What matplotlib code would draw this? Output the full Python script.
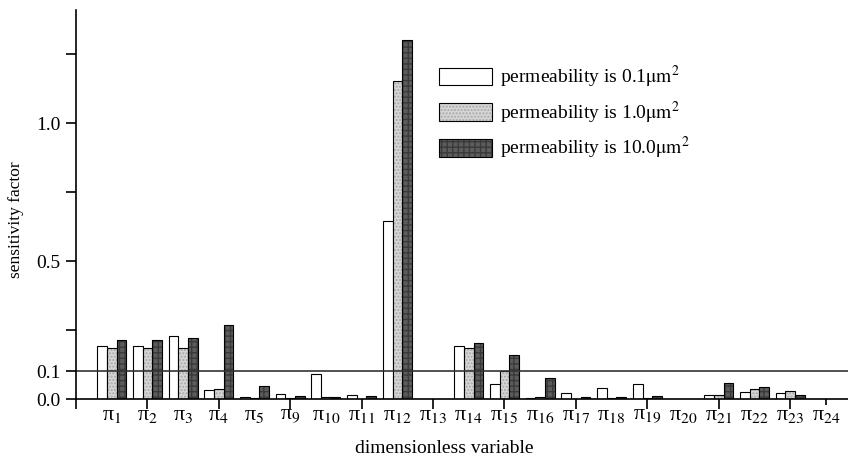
import matplotlib
matplotlib.use("Agg")
import matplotlib.pyplot as plt
import numpy as np
from matplotlib.patches import Patch

plt.rcParams['font.family'] = ['Liberation Serif', 'DejaVu Serif']
plt.rcParams['mathtext.fontset'] = 'stix'

variables = ['1', '2', '3', '4', '5', '9', '10', '11', '12', '13', '14', '15',
             '16', '17', '18', '19', '20', '21', '22', '23', '24']
perm_01 = [0.193, 0.193, 0.229, 0.031, 0.007, 0.019, 0.089, 0.013, 0.647, 0.001, 0.193,
           0.054, 0.004, 0.021, 0.039, 0.054, 0.001, 0.013, 0.025, 0.023, 0.001]
perm_10 = [0.184, 0.184, 0.186, 0.037, 0.003, 0.002, 0.006, 0.001, 1.153, 0.001, 0.184,
           0.100, 0.006, 0.001, 0.004, 0.004, 0.001, 0.013, 0.035, 0.028, 0.001]
perm_100 = [0.215, 0.215, 0.220, 0.267, 0.046, 0.012, 0.006, 0.012, 1.303, 0.001, 0.204,
            0.159, 0.075, 0.008, 0.008, 0.011, 0.001, 0.057, 0.042, 0.014, 0.001]
labels = [r'permeability is 0.1$\mathrm{\mu m}^2$',
          r'permeability is 1.0$\mathrm{\mu m}^2$',
          r'permeability is 10.0$\mathrm{\mu m}^2$']

x = np.arange(1, len(variables) + 1)
w = 0.27

fig = plt.figure(figsize=(8.48, 4.59), dpi=100)
ax = fig.add_axes([76 / 848, 60 / 459, 772 / 848, 389 / 459])

# (face, hatch, hatch colour)
styles = [('white', None, 'white'), ('#d6d6d6', '.....', '#a8a8a8'), ('#5c5c5c', '+++', '#3a3a3a')]
for k, (vals, (fc, hatch, hc)) in enumerate(zip([perm_01, perm_10, perm_100], styles)):
    pos = x + (k - 1) * w
    ax.bar(pos, vals, w, color=fc, hatch=hatch, edgecolor=hc, linewidth=0)
    ax.bar(pos, vals, w, facecolor='none', edgecolor='black', linewidth=0.8)

leg_handles = [(Patch(facecolor=fc, hatch=hatch, edgecolor=hc, linewidth=0),
                Patch(facecolor='none', edgecolor='black', linewidth=0.8))
               for fc, hatch, hc in styles]
ax.legend(leg_handles, labels, loc='upper left', bbox_to_anchor=(0.470, 0.862),
          frameon=False, fontsize=14, handlelength=2.75, handleheight=1.0,
          handletextpad=0.4, labelspacing=0.5, borderpad=0, borderaxespad=0)

ax.axhline(0.1, color='#333333', linewidth=1.2)

ax.set_xlim(0, 21.62)
ax.set_ylim(0, 1.41)

ax.xaxis.remove_overlapping_locs = False
ax.set_xticks(np.arange(0, 21, 2))
ax.set_xticklabels([])
ax.set_xticks(x, ['π$_{%s}$' % v for v in variables], minor=True)
ax.tick_params(axis='x', which='major', direction='out', length=7, width=1.2)
ax.tick_params(axis='x', which='minor', direction='out', length=0, labelsize=16, pad=5)
last = ax.xaxis.get_minor_ticks()[-1]
last.tick1line.set_markersize(4)
last.tick1line.set_markeredgewidth(1.2)

ax.set_yticks([0, 0.1, 0.25, 0.5, 0.75, 1.0, 1.25])
ax.set_yticklabels(['0.0', '0.1', '', '0.5', '', '1.0', ''])
ax.tick_params(axis='y', direction='out', length=7, width=1.2, labelsize=14, pad=4)

for s in ['top', 'right']:
    ax.spines[s].set_visible(False)
for s in ['left', 'bottom']:
    ax.spines[s].set_linewidth(1.2)

ax.set_xlabel('dimensionless variable', fontsize=14)
ax.set_ylabel('sensitivity factor', fontsize=12.5)
ax.xaxis.set_label_coords(0.477, -0.106)
ax.yaxis.set_label_coords(-0.068, 0.46)

fig.savefig('out.png', dpi=100)
